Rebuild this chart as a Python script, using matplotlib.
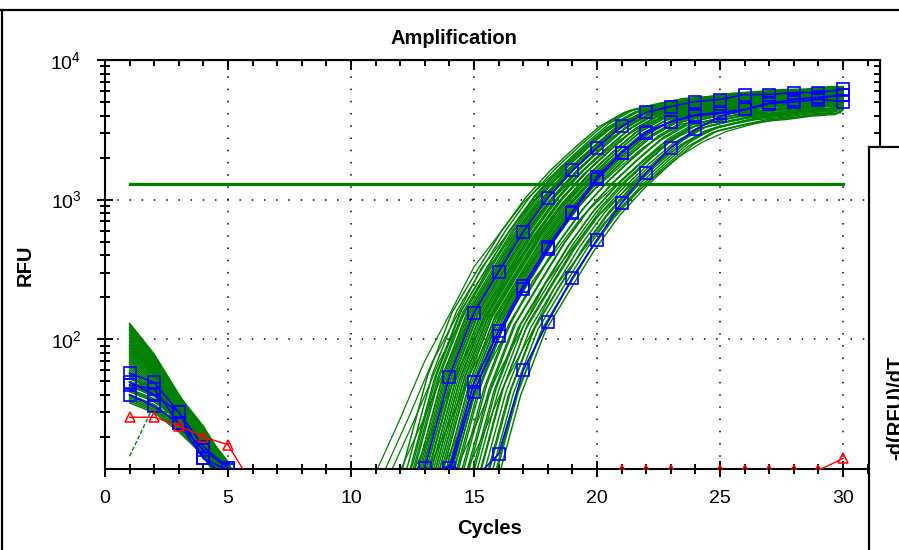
import numpy as np
import matplotlib.pyplot as plt
from matplotlib.lines import Line2D
from matplotlib.ticker import FixedLocator, LogLocator, NullFormatter

plt.rcParams['font.family'] = ['Liberation Sans', 'DejaVu Sans']
plt.rcParams['mathtext.fontset'] = 'custom'
plt.rcParams['mathtext.rm'] = 'Liberation Sans'
plt.rcParams['mathtext.it'] = 'Liberation Sans'
plt.rcParams['mathtext.bf'] = 'Liberation Sans:bold'

GREEN = '#008000'
BLUE = '#0000ff'
RED = '#ff0000'

cycles = np.arange(1, 31)
threshold = 1303

# highlighted wells (blue squares), RFU per cycle 1..30
blue_a = [57, 49, 30, 17, 12, 6, 4, 3, 3, 3, 3.5, 5, 12, 54, 155, 305, 590, 1033, 1616, 2360,
          3340, 4210, 4640, 5040, 5210, 5660, 5660, 5850, 5850, 6150]
blue_b = [49, 40, 30, 14, 11.5, 6, 4, 3, 3, 3, 3, 4, 6, 12, 49, 114, 242, 460, 820, 1462,
          2170, 3070, 3620, 4060, 4200, 4420, 4900, 5210, 5400, 5660]
blue_b2 = [47, 44, 25, 16, 12, 6, 4, 3, 3, 3, 3, 4, 6, 11, 42, 105, 230, 440, 800, 1400,
           2150, 3000, 3600, 4000, 4150, 4420, 4850, 5200, 5350, 5600]
blue_c = [40, 33, 25, 14, 10, 5, 4, 3, 3, 3, 3, 3, 4, 6, 10, 15, 60, 133, 276, 517,
          952, 1560, 2360, 3180, 3940, 4420, 4900, 5000, 5210, 5040]

# no template control (red triangles)
red_ntc = [27.6, 27.6, 24, 20, 17.5, 9, 6, 5, 5, 5, 5, 5, 5, 5, 5, 5, 5, 5, 5, 5,
           11.6, 11.6, 11.6, 9, 11.6, 11.6, 11.6, 11.6, 11.5, 14]

# remaining wells: early baseline (cycles 1..6)
early_cycles = np.arange(1, 7)
early_fast = [1.0, 0.6, 0.31, 0.16, 0.085, 0.04]
early_mid = [1.0, 0.72, 0.45, 0.27, 0.14, 0.06]
early_slow = [1.0, 0.85, 0.62, 0.42, 0.25, 0.1]
green_start = [130, 127, 124, 121, 118, 115, 112, 109, 106, 103, 100, 97, 95, 92, 90,
               88, 86, 84, 82, 80, 78, 76, 74, 72, 70, 68, 66, 64, 62, 60, 58, 56,
               55, 53, 52, 50, 49, 47, 46, 44, 43, 42, 40, 39, 38, 37, 36, 35]
green_odd = [14.5, 34, 26, 17, 11.5, 6]

# remaining wells: rise (steep shape, cycles 11..30)
steep_cycles = np.arange(11, 31)
steep_profile = [2.5, 4.5, 12, 54, 155, 305, 590, 1033, 1616, 2360, 3340, 4210, 4640,
                 5040, 5210, 5500, 5660, 5850, 5900, 6150]
green_shift = [-0.9, -0.7, -0.6, -0.5, -0.45, -0.4, -0.3, -0.25, -0.2, -0.15, -0.1,
               -0.05, 0.0, 0.05, 0.1, 0.15, 0.2, 0.25, 0.3, 0.35, 0.4, 0.45, 0.5, 0.55,
               0.6, 0.65, 0.7, 0.75, 0.8, 0.85, 0.9, 0.95, 1.0, 1.05, 1.1, 1.15, 1.2,
               1.3, 1.4, 1.5, 1.6, 1.7, 1.8, 1.9, 2.0, 2.1, 2.2, 2.3, 2.4, 2.5, 2.6,
               2.7, 2.8, 2.9]
green_scale = [1.0, 1.03, 0.98, 1.05, 1.01, 1.0, 0.96, 1.04, 1.0, 0.99, 0.97, 1.02,
               1.0, 0.95, 1.03, 0.98, 1.0, 0.94, 1.02, 0.97, 0.92, 1.0, 0.95, 0.9,
               0.98, 0.93, 0.9, 0.96, 0.88, 0.94, 0.9, 0.86, 0.92, 0.88, 0.85, 0.9,
               0.84, 0.88, 0.82, 0.86, 0.8, 0.84, 0.78, 0.82, 0.8, 0.76, 0.84, 0.78,
               0.74, 0.8, 0.76, 0.72, 0.78, 0.74]

# remaining wells: rise (shallow shape, cycles 10..30)
shallow_cycles = np.arange(10, 31)
shallow_profile = [5, 11, 27, 70, 150, 330, 560, 950, 1400, 2000, 2800, 3600, 4300,
                   4800, 5200, 5500, 5700, 5850, 5950, 6050, 6100]
shallow_shift = [0.0, 0.3, 0.6, 0.9, 1.4, 1.9, 2.4, 2.9, 3.3]
shallow_scale = [1.0, 0.98, 1.0, 0.95, 0.9, 0.85, 0.8, 0.76, 0.72]


def shifted(xs, vals, s, k):
    # move a read-off well profile along the cycle axis, ending at the last cycle
    xs = np.asarray(xs) + s
    vals = np.asarray(vals) * k
    keep = xs < 30
    return np.append(xs[keep], 30), np.append(vals[keep], vals[-1])


fig = plt.figure(figsize=(8.99, 5.5), dpi=100)
ax = fig.add_axes([105 / 899, 81 / 550, 775 / 899, 409 / 550])
ax.set_yscale('log')
ax.set_xlim(0, 31.5)
ax.set_ylim(11.75, 1e4)

# green wells
for v in green_start:
    shape = early_fast if v >= 90 else (early_mid if v >= 55 else early_slow)
    ax.plot(early_cycles, np.array(shape) * v, color=GREEN, lw=1.1)
ax.plot(early_cycles, green_odd, color=GREEN, lw=1.0, ls=(0, (3, 1.5)))
for s, k in zip(green_shift, green_scale):
    ax.plot(*shifted(steep_cycles, steep_profile, s, k), color=GREEN, lw=1.05)
for s, k in zip(shallow_shift, shallow_scale):
    ax.plot(*shifted(shallow_cycles, shallow_profile, s, k), color=GREEN, lw=0.9)

# threshold
ax.plot([1, 30], [threshold, threshold], color=GREEN, lw=2.3, zorder=3)

for vals in (blue_c, blue_b2, blue_b, blue_a):
    ax.plot(cycles, vals, color=BLUE, lw=1.2, marker='s', ms=8.5, mfc='none',
            mec=BLUE, mew=1.2, zorder=4)
ax.plot(cycles, red_ntc, color=RED, lw=1.0, marker='^', ms=7, mfc='none',
        mec=RED, mew=1.1, zorder=5)

# grid
for gx in [5, 10, 15, 20, 25, 30]:
    ax.axvline(gx, color='black', lw=1.1, ls=(0, (1, 7)), zorder=1)
for gy in [100, 1000]:
    ax.axhline(gy, color='black', lw=1.1, ls=(0, (1, 7)), zorder=1)

# ticks
ax.xaxis.set_major_locator(FixedLocator([0, 5, 10, 15, 20, 25, 30]))
ax.xaxis.set_minor_locator(FixedLocator(range(0, 32)))
ax.yaxis.set_major_locator(LogLocator(base=10))
ax.yaxis.set_minor_locator(LogLocator(base=10, subs=range(2, 10)))
ax.yaxis.set_minor_formatter(NullFormatter())
ax.tick_params(which='major', direction='inout', length=12, width=1.4,
               labelsize=14, top=False, right=False)
ax.tick_params(which='minor', direction='inout', length=7, width=1.4,
               top=False, right=False)
ax.tick_params(axis='x', which='major', pad=9)
ax.tick_params(axis='y', which='major', pad=11)
for sp in ax.spines.values():
    sp.set_linewidth(1.5)

top = ax.secondary_xaxis('top')
top.xaxis.set_major_locator(FixedLocator([0, 5, 10, 15, 20, 25, 30]))
top.xaxis.set_minor_locator(FixedLocator(range(0, 32)))
top.tick_params(which='major', direction='in', length=7, width=1.4, labeltop=False)
top.tick_params(which='minor', direction='in', length=4, width=1.4)
right = ax.secondary_yaxis('right')
right.yaxis.set_major_locator(LogLocator(base=10))
right.yaxis.set_minor_locator(LogLocator(base=10, subs=range(2, 10)))
right.yaxis.set_minor_formatter(NullFormatter())
right.tick_params(which='major', direction='in', length=7, width=1.4, labelright=False)
right.tick_params(which='minor', direction='in', length=4, width=1.4)

fig.text(454 / 899, 1 - 38 / 550, 'Amplification', fontsize=14.5, fontweight='bold',
         ha='center', va='center')
fig.text(490 / 899, 1 - 529 / 550, 'Cycles', fontsize=14.5, fontweight='bold',
         ha='center', va='center')
fig.text(25 / 899, 1 - 265 / 550, 'RFU', fontsize=14.5, fontweight='bold',
         ha='center', va='center', rotation=90)

# window frame
fig.add_artist(Line2D([0, 1], [1 - 10 / 550, 1 - 10 / 550], color='black', lw=1.6))
fig.add_artist(Line2D([2 / 899, 2 / 899], [0, 1 - 10 / 550], color='black', lw=1.6))

# neighbouring panel, only its left edge shows in the window
side = fig.add_axes([869 / 899, -0.05, 60 / 899, 1.05 - 147 / 550], zorder=10)
side.set_xticks([])
side.set_yticks([])
for name in ('right', 'bottom'):
    side.spines[name].set_visible(False)
for name in ('left', 'top'):
    side.spines[name].set_linewidth(1.6)
fig.text(896 / 899, 1 - 408 / 550, '-d(RFU)/dT', fontsize=14.5, fontweight='bold',
         ha='center', va='center', rotation=90, zorder=11)

fig.savefig('out.png', dpi=100)
